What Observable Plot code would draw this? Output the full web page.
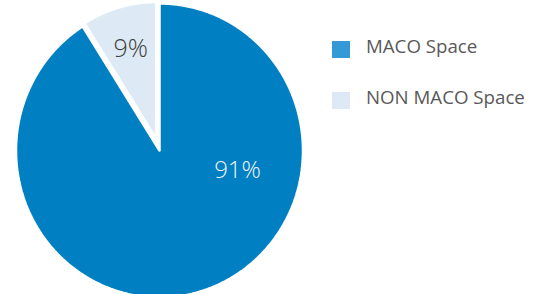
<!DOCTYPE html>
<html>
<head>
<meta charset="utf-8">
<script src="https://cdn.jsdelivr.net/npm/d3@7"></script>
<script src="https://cdn.jsdelivr.net/npm/@observablehq/plot@0.6"></script>
<style>
  body { margin: 0; background: #fff; }
  #wrap { position: relative; width: 535px; height: 294px; overflow: hidden; font-family: "Open Sans", "Noto Sans", sans-serif; }
  #wrap svg { position: absolute; left: 0; top: 0; }
  .lg-sw { position: absolute; width: 18px; height: 17px; }
  .lg-tx { position: absolute; font-size: 18.7px; line-height: 18px; color: #595959; white-space: nowrap; }
</style>
</head>
<body>
<div id="wrap"></div>
<script>
// ---- data ----
const categories = ["MACO Space", "NON MACO Space"];
const values = [91, 9];
const labels = ["91%", "9%"];

// ---- style / layout ----
const sliceColors = ["#0080C3", "#DDEAF6"];
const legendColors = ["#339AD6", "#DDEAF6"];
const labelColors = ["#F2F2F2", "#404040"];
const labelSizes = [24, 25];
const explode = [0, 0.083];      // offset along bisector (unit radius)
const sliceRadius = [1, 0.93];
const labelAngleShift = [-60, 0]; // degrees, Excel best-fit placement
const labelRadius = [0.56, 0.635];

const pie = d3.pie().sort(null).value(d => d)(values);

const polyPts = [];
const labelPts = [];
pie.forEach((p, i) => {
  const mid = (p.startAngle + p.endAngle) / 2;
  const ox = explode[i] * Math.sin(mid), oy = explode[i] * Math.cos(mid);
  const r = sliceRadius[i];
  const pts = [[ox, oy]];
  const n = Math.max(2, Math.ceil((p.endAngle - p.startAngle) / (Math.PI / 360)));
  for (let k = 0; k <= n; k++) {
    const a = p.startAngle + (p.endAngle - p.startAngle) * k / n;
    pts.push([ox + r * Math.sin(a), oy + r * Math.cos(a)]);
  }
  pts.push([ox, oy]);
  pts.forEach(([x, y]) => polyPts.push({ cat: categories[i], x, y }));
  const la = mid + labelAngleShift[i] * Math.PI / 180;
  labelPts.push({
    cat: categories[i], label: labels[i], color: labelColors[i], size: labelSizes[i],
    x: ox + labelRadius[i] * Math.sin(la), y: oy + labelRadius[i] * Math.cos(la)
  });
});

const cx = 159, cy = 150, rx = 143.5, ry = 147;

const chart = Plot.plot({
  width: 535,
  height: 294,
  margin: 0,
  x: { domain: [-1, 1], range: [cx - rx, cx + rx], axis: null },
  y: { domain: [-1, 1], range: [cy + ry, cy - ry], axis: null },
  color: { domain: categories, range: sliceColors },
  style: { background: "transparent", fontFamily: "'Open Sans', 'Noto Sans', sans-serif" },
  marks: [
    Plot.line(polyPts, { x: "x", y: "y", z: "cat", fill: "cat", stroke: "white", strokeWidth: 2.5, curve: "linear", strokeLinejoin: "miter" }),
    Plot.text(labelPts.slice(0, 1), { x: "x", y: "y", text: "label", fill: d => d.color, fontSize: labelSizes[0], fontWeight: 300 }),
    Plot.text(labelPts.slice(1), { x: "x", y: "y", text: "label", fill: d => d.color, fontSize: labelSizes[1], fontWeight: 300 })
  ]
});

const wrap = document.getElementById("wrap");
wrap.appendChild(chart);

// legend (HTML, to the right of the pie)
const legendTop = [41, 92];
categories.forEach((c, i) => {
  const sw = document.createElement("div");
  sw.className = "lg-sw";
  sw.style.left = "332px";
  sw.style.top = legendTop[i] + "px";
  sw.style.background = legendColors[i];
  wrap.appendChild(sw);
  const tx = document.createElement("div");
  tx.className = "lg-tx";
  tx.style.left = "366px";
  tx.style.top = (legendTop[i] - 4) + "px";
  tx.textContent = c;
  wrap.appendChild(tx);
});
</script>
</body>
</html>
